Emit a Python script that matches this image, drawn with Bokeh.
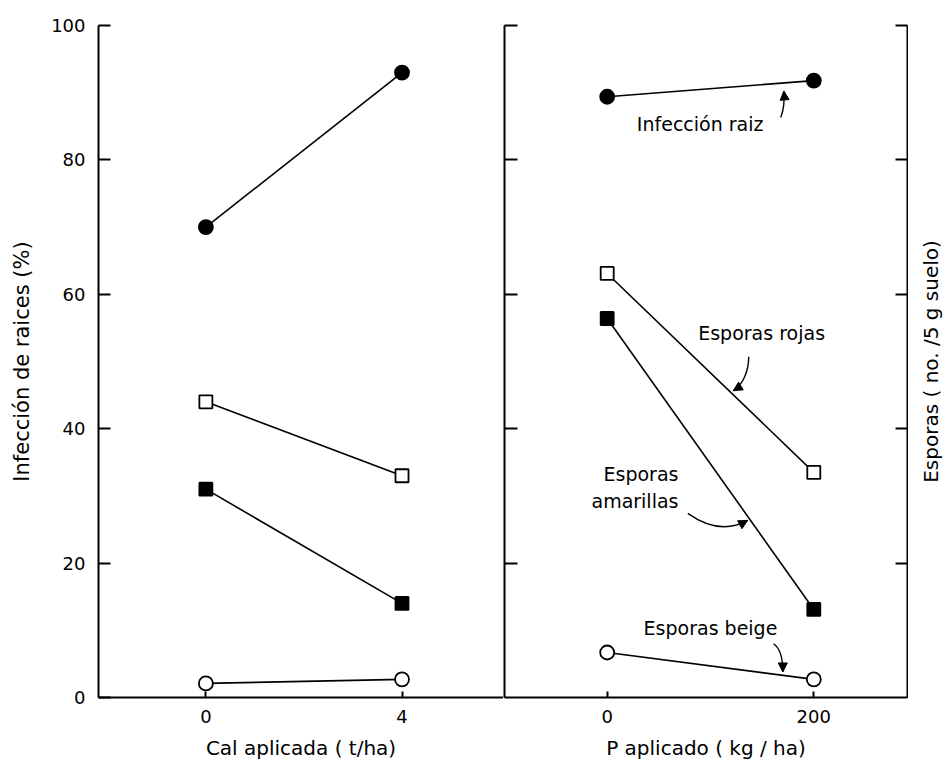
from bokeh.embed import file_html
from bokeh.layouts import row
from bokeh.models import Arrow, FixedTicker, Label, LinearAxis, NormalHead, Range1d
from bokeh.plotting import figure
from bokeh.resources import INLINE

FONT = "DejaVu Sans"

# Lime applied (t/ha)
cal_x = [0, 4]
cal_infeccion = [70, 93]
cal_rojas = [44, 33]
cal_amarillas = [31, 14]
cal_beige = [2.1, 2.7]

# Phosphorus applied (kg/ha)
p_x = [0, 200]
p_infeccion = [89.4, 91.8]
p_rojas = [63.1, 33.5]
p_amarillas = [56.4, 13.1]
p_beige = [6.7, 2.7]

y_ticks = [0, 20, 40, 60, 80, 100]
cal_ticks = [0, 4]
p_ticks = [0, 200]

# marker, filled?
styles = {
    "infeccion": ("circle", True),
    "rojas": ("square", False),
    "amarillas": ("square", True),
    "beige": ("circle", False),
}


def draw_series(p, xs, ys, key):
    marker, filled = styles[key]
    p.line(xs, ys, line_color="black", line_width=1.6)
    size = 14 if marker == "circle" else 13
    p.scatter(xs, ys, marker=marker, size=size, line_color="black", line_width=1.8,
              fill_color="black" if filled else "white")


def style_axis(ax):
    ax.axis_line_width = 2
    ax.axis_line_color = "black"
    ax.major_tick_line_width = 2
    ax.major_tick_line_color = "black"
    ax.minor_tick_line_color = None
    ax.major_tick_out = 0
    ax.major_label_text_font = FONT
    ax.major_label_text_font_size = "18px"
    ax.major_label_text_color = "black"
    ax.axis_label_text_font = FONT
    ax.axis_label_text_font_size = "20px"
    ax.axis_label_text_font_style = "normal"
    ax.axis_label_text_color = "black"


def hide_labels(ax):
    # tick marks only, no numbers
    ax.major_label_text_font_size = "0px"
    ax.major_label_text_color = None
    ax.major_label_standoff = 0


def base_figure(width, x_range, **kw):
    p = figure(width=width, height=767, x_range=x_range, y_range=Range1d(0, 100),
               output_backend="svg", toolbar_location=None,
               min_border_top=25, min_border_bottom=70, **kw)
    p.outline_line_color = None
    p.background_fill_color = "white"
    p.border_fill_color = "white"
    p.grid.visible = False
    return p


def y_on(xs, ys, x):
    t = (x - xs[0]) / (xs[1] - xs[0])
    return ys[0] + t * (ys[1] - ys[0])


def curved_arrow(p, start, c0, c1, tip):
    p.bezier(x0=[start[0]], y0=[start[1]], x1=[tip[0]], y1=[tip[1]],
             cx0=[c0[0]], cy0=[c0[1]], cx1=[c1[0]], cy1=[c1[1]],
             line_color="black", line_width=1.4)
    bx = tip[0] - 0.05 * (tip[0] - c1[0])
    by = tip[1] - 0.05 * (tip[1] - c1[1])
    p.add_layout(Arrow(end=NormalHead(size=9, fill_color="black", line_color="black"),
                       x_start=bx, y_start=by, x_end=tip[0], y_end=tip[1],
                       line_color="black", line_width=1))


def note(p, x, y, text, align="center"):
    p.add_layout(Label(x=x, y=y, text=text, text_font=FONT, text_font_size="19px",
                       text_align=align, text_baseline="middle", text_color="black"))


# ---- left panel: lime ----
left = base_figure(503, Range1d(-2.19, 6.07), min_border_left=98, min_border_right=0)
lx = left.xaxis[0]
ly = left.yaxis[0]
for ax in (lx, ly):
    style_axis(ax)
lx.ticker = FixedTicker(ticks=cal_ticks, minor_ticks=[])
lx.major_tick_in = 6
lx.major_label_standoff = 12
lx.axis_label = "Cal aplicada ( t/ha)"
lx.axis_label_standoff = 10
ly.ticker = FixedTicker(ticks=y_ticks, minor_ticks=[])
ly.major_tick_in = 12
ly.major_label_standoff = 13
ly.axis_label = "Infección de raices (%)"
ly.axis_label_standoff = 14
ly.axis_label_text_font_size = "21px"

draw_series(left, cal_x, cal_infeccion, "infeccion")
draw_series(left, cal_x, cal_rojas, "rojas")
draw_series(left, cal_x, cal_amarillas, "amarillas")
draw_series(left, cal_x, cal_beige, "beige")

# ---- right panel: phosphorus ----
right = base_figure(405, Range1d(-99.4, 290.7), y_axis_location="right",
                    min_border_left=1, min_border_right=1)
rx = right.xaxis[0]
ry = right.yaxis[0]
for ax in (rx, ry):
    style_axis(ax)
rx.ticker = FixedTicker(ticks=p_ticks, minor_ticks=[])
rx.major_tick_in = 6
rx.major_label_standoff = 12
rx.axis_label = "P aplicado ( kg / ha)"
rx.axis_label_standoff = 10
ry.ticker = FixedTicker(ticks=y_ticks[1:], minor_ticks=[])
ry.major_tick_in = 12
hide_labels(ry)

mid = LinearAxis(ticker=FixedTicker(ticks=y_ticks[1:], minor_ticks=[]))
style_axis(mid)
mid.major_tick_in = 13
hide_labels(mid)
right.add_layout(mid, "left")

draw_series(right, p_x, p_infeccion, "infeccion")
draw_series(right, p_x, p_rojas, "rojas")
draw_series(right, p_x, p_amarillas, "amarillas")
draw_series(right, p_x, p_beige, "beige")

note(right, 90, 85.4, "Infección raiz")
note(right, 149.5, 54.2, "Esporas rojas")
note(right, 69, 33.3, "Esporas", align="right")
note(right, 69, 29.3, "amarillas", align="right")
note(right, 100, 10.4, "Esporas beige")

tip = y_on(p_x, p_infeccion, 171) - 1.2
curved_arrow(right, (168, 86.3), (171, 87.5), (172, 88.5), (171, tip))
tip = y_on(p_x, p_rojas, 122) + 0.6
curved_arrow(right, (137, 50.7), (137, 48.5), (131, 46.5), (122, tip))
tip = y_on(p_x, p_amarillas, 136) - 0.6
curved_arrow(right, (78, 27.4), (100, 25.0), (120, 25.0), (136, tip))
tip = y_on(p_x, p_beige, 170) + 0.5
curved_arrow(right, (161, 8.0), (166, 7.5), (170, 6.2), (170, tip))

# ---- narrow strip carrying the spore axis title (reads bottom to top) ----
strip = base_figure(44, Range1d(0, 1), x_axis_location=None,
                    min_border_left=34, min_border_right=0)
sy = strip.yaxis[0]
style_axis(sy)
hide_labels(sy)
sy.axis_line_color = None
sy.major_tick_line_color = None
sy.major_tick_in = 0
sy.ticker = FixedTicker(ticks=[], minor_ticks=[])
sy.axis_label = "Esporas ( no. /5 g suelo)"
sy.axis_label_standoff = 0

layout = row(left, right, strip)
open("out.html", "w").write(file_html(layout, INLINE))
